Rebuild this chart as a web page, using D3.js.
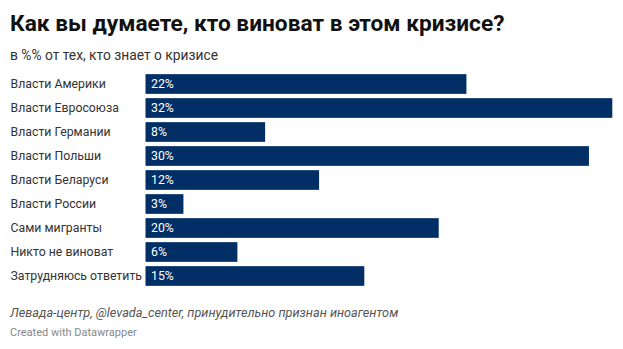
<!DOCTYPE html>
<html>
<head>
<meta charset="utf-8">
<script src="https://cdn.jsdelivr.net/npm/d3@7"></script>
<style>
  body { margin: 0; background: #fff; font-family: Roboto, sans-serif; }
</style>
</head>
<body>
<script>
let categories = ["Власти Америки", "Власти Евросоюза", "Власти Германии", "Власти Польши",
  "Власти Беларуси", "Власти России", "Сами мигранты", "Никто не виноват", "Затрудняюсь ответить"];
// bar lengths; labels show the rounded value
let values = [22.0, 32.0, 8.2, 30.4, 11.9, 2.6, 20.1, 6.3, 15.0];

let width = 623, height = 349;
let margin = { top: 72, left: 145.5, right: 10.7, bottom: 61 };

let svg = d3.select("body").append("svg").attr("width", width).attr("height", height);

svg.append("text").attr("x", 10).attr("y", 31)
  .style("font-size", "22.7px").style("font-weight", "bold").style("fill", "#111")
  .text("Как вы думаете, кто виноват в этом кризисе?");

svg.append("text").attr("x", 10).attr("y", 60)
  .style("font-size", "13.8px").style("fill", "#333")
  .text("в %% от тех, кто знает о кризисе");

let x = d3.scaleLinear().domain([0, d3.max(values)]).range([margin.left, width - margin.right]);
let y = d3.scaleBand().domain(categories).range([margin.top, height - margin.bottom]).paddingInner(0.18).paddingOuter(0.09);

let rows = svg.append("g").selectAll("g").data(categories).enter().append("g");

rows.append("text").attr("x", 10.5).attr("y", d => y(d) + y.bandwidth() / 2 + 4.4)
  .style("font-size", "12.3px").style("fill", "#333").text(d => d);

rows.append("rect")
  .attr("x", x(0)).attr("y", d => y(d))
  .attr("width", (d, i) => x(values[i]) - x(0)).attr("height", y.bandwidth())
  .style("fill", "#002e65");

rows.append("text").attr("x", x(0) + 5.5).attr("y", d => y(d) + y.bandwidth() / 2 + 4.4)
  .style("font-size", "12.3px").style("fill", "#fff").text((d, i) => Math.round(values[i]) + "%");

svg.append("text").attr("x", 10).attr("y", 317)
  .style("font-size", "12.7px").style("font-style", "italic").style("fill", "#555")
  .text("Левада-центр, @levada_center, принудительно признан иноагентом");

svg.append("text").attr("x", 10).attr("y", 336)
  .style("font-size", "11px").style("fill", "#888")
  .text("Created with Datawrapper");
</script>
</body>
</html>
